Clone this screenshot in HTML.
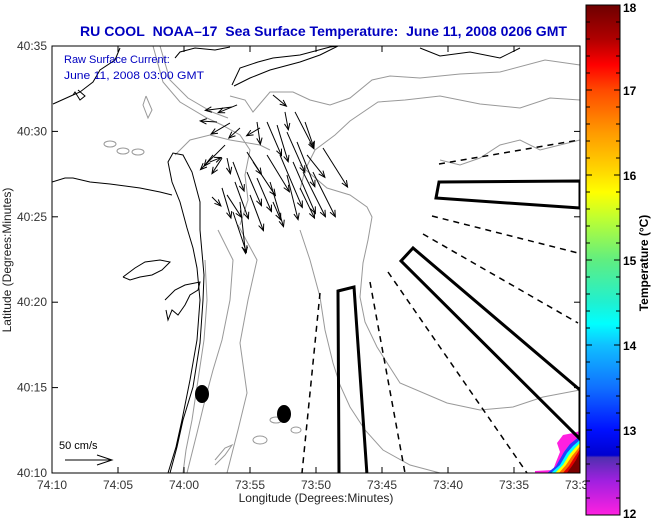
<!DOCTYPE html>
<html><head><meta charset="utf-8"><style>
html,body{margin:0;padding:0;background:#fff;}
svg{display:block;font-family:"Liberation Sans",sans-serif;}
</style></head><body>
<svg id="chart" width="651" height="519" viewBox="0 0 651 519" xmlns="http://www.w3.org/2000/svg">
<defs>
<linearGradient id="cbg" x1="0" y1="0" x2="0" y2="1">
<stop offset="0" stop-color="#6e0000"/><stop offset="0.067" stop-color="#b00000"/>
<stop offset="0.117" stop-color="#ff0000"/><stop offset="0.167" stop-color="#ff4a00"/>
<stop offset="0.25" stop-color="#ff9a00"/><stop offset="0.317" stop-color="#ffd000"/>
<stop offset="0.367" stop-color="#ffff00"/><stop offset="0.417" stop-color="#c0ff30"/>
<stop offset="0.5" stop-color="#60ee80"/><stop offset="0.583" stop-color="#20f0d0"/>
<stop offset="0.625" stop-color="#00ffff"/><stop offset="0.667" stop-color="#10c0ff"/>
<stop offset="0.75" stop-color="#1070ff"/><stop offset="0.833" stop-color="#0010ff"/>
<stop offset="0.883" stop-color="#0000d0"/><stop offset="0.887" stop-color="#5030b0"/>
<stop offset="0.933" stop-color="#a020e0"/><stop offset="1" stop-color="#ff20e0"/>
</linearGradient>
<clipPath id="plotclip"><rect x="52" y="46" width="528" height="427"/></clipPath>
</defs>
<rect width="651" height="519" fill="#fff"/>
<text x="80" y="36" font-size="14" font-weight="bold" fill="#0000c0" textLength="487" lengthAdjust="spacingAndGlyphs">RU COOL&#160;&#160;NOAA–17&#160;&#160;Sea Surface Temperature:&#160;&#160;June 11, 2008 0206 GMT</text>

<g clip-path="url(#plotclip)">
 <g>
  <polygon fill="#ff20e0" points="557,443 563,435 573,433 580,431 580,474 535,474 535,471 553,470 556,462 560,452"/>
  <polygon fill="#2040ff" points="580,436 580,474 546,474 556,466 564,452 570,444"/>
  <polygon fill="#00ffff" points="580,440 580,474 550,474 560,465 567,453 573,446"/>
  <polygon fill="#ffff00" points="580,443 580,474 554,474 563,465 569,455 575,448"/>
  <polygon fill="#ff7000" points="580,446 580,474 558,474 566,465 572,456 577,450"/>
  <polygon fill="#e00000" points="580,449 580,474 562,474 569,466 574,458"/>
  <polygon fill="#7a0000" points="580,452 580,474 566,474 572,466 576,460"/>
 </g>
 <g fill="none" stroke="#999" stroke-width="1">
  <polyline points="580,65 545,60 500,72 460,74 420,78 390,76 372,80 350,98 330,105 310,100 293,92 270,92 253,112 245,100 230,96"/>
  <polyline points="580,100 550,98 520,108 480,104 440,96 405,100 378,102 350,121 335,135 315,150 305,170 300,190"/>
  <polyline points="300,165 327,188 350,195 367,207 372,217 368,240 363,263 360,297 365,322 377,347 400,383 447,403 480,410 513,407 543,397 580,390"/>
  <polyline points="300,230 310,260 320,297 325,330 333,363 340,385 350,407 365,430 383,450 410,465 440,473"/>
  <polyline points="205,260 207,300 204,340 198,380 192,420 186,450 183,473"/>
  <polyline points="218,230 233,260 230,300 222,340 213,370 205,400 197,433 187,473"/>
  <polyline points="238,225 257,260 248,300 240,343 247,393 238,430 227,473"/>
  <polyline points="153,46 163,82 180,102 207,118 222,125 240,135 250,150 245,175 248,200 240,225"/>
  <polyline points="160,46 170,80 188,98 212,112 228,118"/>
  <polyline points="175,155 190,140 210,135 230,140 260,145 270,150"/>
  <polyline points="580,140 560,145 540,150 520,140 500,145 480,158 460,165 440,160"/>
  <ellipse cx="110" cy="144" rx="6" ry="3"/><ellipse cx="123" cy="151" rx="6" ry="3"/><ellipse cx="138" cy="152" rx="6" ry="3"/>
  <ellipse cx="276" cy="420" rx="6" ry="3"/><ellipse cx="296" cy="430" rx="5" ry="3"/><ellipse cx="260" cy="440" rx="7" ry="4"/>
  <polyline points="215,465 225,455 232,445 225,448 215,460"/>
  <polyline points="146,96 152,110 148,118 143,105 146,96"/>
 </g>
 <g fill="none" stroke="#000" stroke-width="1">
  <polyline points="170,473 177,447 183,420 193,387 200,343 203,300 204,275 200,230 200,202 192,172 183,155 173,153 168,162 172,182 180,202 187,228 193,248 197,268 200,300 197,340 190,380 182,420 176,447 168,473"/>
  <polyline points="52,182 65,178 73,178 90,182 110,184 140,188 160,192 172,195"/>
  <polyline points="53,104 73,95 80,92 93,82 100,70 115,60 120,48"/>
  <polyline points="73,95 75,92 80,100 85,96 78,90"/>
  <polyline points="232,85 240,68 258,62 273,58 300,55 330,47 338,46 320,55 300,62 270,70 250,78 234,86"/>
  <polyline points="175,58 180,52 195,48 215,50 230,47"/>
  <polyline points="123,277 135,268 145,262 160,260 170,262 162,270 152,275 140,277 130,280 123,277"/>
  <polyline points="165,300 175,290 185,285 200,282 198,290 190,295 185,305 178,315 172,310 168,320 166,310"/>
  <polyline points="420,48 440,56 470,52 500,58 520,48"/>
 </g>
 <g fill="none" stroke="#000">
  <polyline stroke-width="1.5" stroke-dasharray="6,5" points="439,164 579,140"/>
  <polygon stroke-width="3" points="439,182 580,181 580,208 436,198"/>
  <polyline stroke-width="1.5" stroke-dasharray="6,5" points="432,216 578,253"/>
  <polyline stroke-width="1.5" stroke-dasharray="6,5" points="423,234 578,323"/>
  <polygon stroke-width="3" points="413,248 401,261 580,439 580,390"/>
  <polyline stroke-width="1.5" stroke-dasharray="6,5" points="388,272 527,473"/>
  <polyline stroke-width="1.5" stroke-dasharray="6,5" points="370,282 405,473"/>
  <polygon stroke-width="3" points="338,291 354,287 367,475 339,475"/>
  <polyline stroke-width="1.5" stroke-dasharray="6,5" points="320,293 302,473"/>
 </g>
 <ellipse cx="202" cy="394" rx="7" ry="9" fill="#000"/>
 <ellipse cx="284" cy="414" rx="7" ry="9" fill="#000"/>
 <g id="arrows"></g>
</g>

<rect x="52" y="46" width="528" height="427" fill="none" stroke="#000" stroke-width="1"/>
<g id="axes"></g>

<text x="64" y="63" font-size="11" fill="#0000c0">Raw Surface Current:</text>
<text x="64" y="79" font-size="11" fill="#0000c0" textLength="140" lengthAdjust="spacingAndGlyphs">June 11, 2008 03:00 GMT</text>
<text x="59" y="449" font-size="11" fill="#000">50 cm/s</text>
<g stroke="#000" fill="none" stroke-width="1">
 <line x1="65" y1="460" x2="112" y2="460"/><polyline points="97,455 112,460 97,465"/>
</g>

<text x="316" y="502" font-size="12" text-anchor="middle" fill="#222">Longitude (Degrees:Minutes)</text>
<text transform="translate(11,260) rotate(-90)" font-size="12" text-anchor="middle" fill="#222">Latitude (Degrees:Minutes)</text>

<rect x="586" y="5" width="34" height="510" fill="url(#cbg)" stroke="#000" stroke-width="1"/>
<g id="cbticks"></g>
<text transform="translate(648,263) rotate(-90)" font-size="12" font-weight="bold" text-anchor="middle" fill="#000">Temperature (°C)</text>
</svg>
<script>
const xTicks = ["74:10","74:05","74:00","73:55","73:50","73:45","73:40","73:35","73:30"];
const xTickMin = [70,65,60,55,50,45,40,35,30];
const yTicks = ["40:10","40:15","40:20","40:25","40:30","40:35"];
const yTickMin = [10,15,20,25,30,35];
const cbValues = [12,13,14,15,16,17,18];
const arrLon = [56.36,55.98,57.5,56.52,55.76,56.89,57.12,56.74,52.35,51.59,50.83,54.47,53.71,52.95,52.2,51.44,49.47,50.68,55.23,54.77,53.71,52.73,51.74,50.98,55.23,54.47,53.48,52.2,51.21,50.23,56.29,56.14,56.74,55.76,56.29,57.12,57.88,55,53.26,57.8,58.03,54.24,53.26];
const arrLat = [31.43,31.55,30.55,30.49,30.2,29.2,28.44,28.44,31.14,31.14,30.55,30.55,30.55,30.37,29.96,29.38,29.03,28.62,28.79,28.21,28.62,28.62,28.21,27.62,27.62,27.27,27.04,27.45,26.69,27.62,28.21,27.04,26.28,25.87,25.28,26.69,26.16,26.28,25.87,28.62,28.21,30.2,32.13];
const arrU = [-25.5,-18,-16,-18,-10.6,-23.4,-9.6,3.2,3.2,18,8.5,3.2,13.8,10.6,17,17,23.4,17,13.8,21.3,21.3,21.3,21.3,21.3,13.8,13.8,12.8,10.6,13.8,21.3,10.6,12.8,13.8,5.3,12.8,8.5,8.5,12.8,7.4,-8.5,10.6,-12.8,12.8];
const arrV = [-3.2,-7.4,1,-10.6,-9.6,-23.4,-14.9,-14.9,-17,-35,-24.5,-21.3,-32,-35,-38.3,-42.6,-37.2,-21.3,-21.3,-32,-35,-50,-49,-42.6,-32,-32,-42.6,-42.6,-28.7,-42.6,-27.7,-35,-21.3,-49,-38.3,-28.7,-8.5,-34,-17,-10.6,4.3,-7.4,-10.6];

const NS = "http://www.w3.org/2000/svg";
const X0 = 52, X1 = 580, Y0 = 46, Y1 = 473;
function xScale(m){ return X0 + (70 - m) * (X1 - X0) / 40; }
function yScale(m){ return Y1 - (m - 10) * (Y1 - Y0) / 25; }
function cbScale(v){ return 515 - (v - 12) * 510 / 6; }
const pxPerCm = 1.05;
function mk(tag, attrs, parent){ const e = document.createElementNS(NS, tag); for (const k in attrs) e.setAttribute(k, attrs[k]); parent.appendChild(e); return e; }

const ag = document.getElementById("arrows");
for (let i = 0; i < arrLon.length; i++) {
  const x = xScale(arrLon[i]), y = yScale(arrLat[i]);
  const x2 = x + arrU[i] * pxPerCm, y2 = y - arrV[i] * pxPerCm;
  const g = mk("g", {stroke:"#000", fill:"none", "stroke-width":"1"}, ag);
  
  
  mk("line", {x1:x, y1:y, x2:x2, y2:y2}, g);
  const ang = Math.atan2(y2 - y, x2 - x), L = 7, a = 0.4;
  const p1 = [x2 - L*Math.cos(ang - a), y2 - L*Math.sin(ang - a)];
  const p2 = [x2 - L*Math.cos(ang + a), y2 - L*Math.sin(ang + a)];
  mk("polyline", {points: p1.join(",") + " " + x2 + "," + y2 + " " + p2.join(",")}, g);
}

const ax = document.getElementById("axes");
xTicks.forEach((t, i) => {
  const x = xScale(xTickMin[i]);
  mk("line", {x1:x, y1:Y1, x2:x, y2:Y1-6, stroke:"#000"}, ax);
  mk("line", {x1:x, y1:Y0, x2:x, y2:Y0+6, stroke:"#000"}, ax);
  const tx = mk("text", {x:x, y:489, "font-size":"12", "text-anchor":"middle", fill:"#333"}, ax);
  tx.textContent = t;
  
  
});
yTicks.forEach((t, i) => {
  const y = yScale(yTickMin[i]);
  mk("line", {x1:X0, y1:y, x2:X0+6, y2:y, stroke:"#000"}, ax);
  mk("line", {x1:X1, y1:y, x2:X1-6, y2:y, stroke:"#000"}, ax);
  const tx = mk("text", {x:47, y:y+4, "font-size":"12", "text-anchor":"end", fill:"#333"}, ax);
  tx.textContent = t;
  
  
});

const cb = document.getElementById("cbticks");
for (let k = 0; k <= 30; k++) {
  const y = cbScale(12 + k * 0.2);
  const major = k % 5 === 0;
  mk("line", {x1:586, y1:y, x2:586 + (major?6:4), y2:y, stroke:"#000"}, cb);
  mk("line", {x1:620, y1:y, x2:620 - (major?6:4), y2:y, stroke:"#000"}, cb);
}
cbValues.forEach(v => {
  const y = cbScale(v);
  const tx = mk("text", {x:623, y:Math.min(Math.max(y+5, 12), 518), "font-size":"12", "font-weight":"bold", fill:"#000"}, cb);
  tx.textContent = v;
  
  
});
</script>
</body></html>
